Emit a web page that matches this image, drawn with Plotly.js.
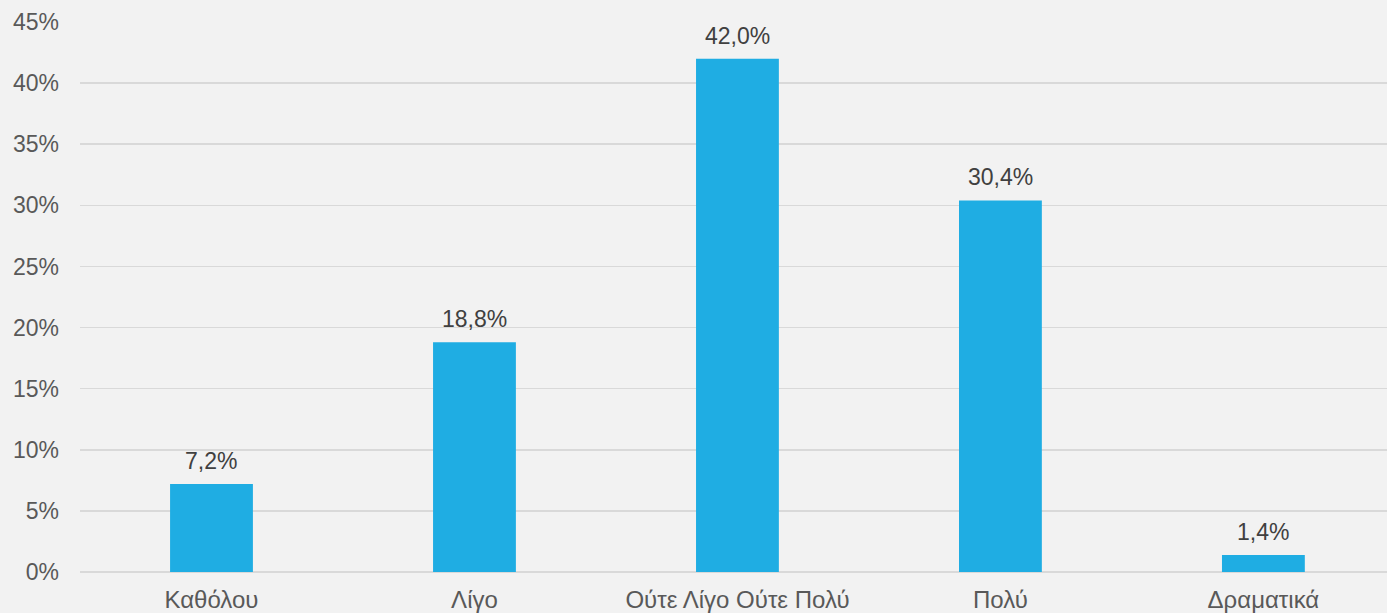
<!DOCTYPE html>
<html>
<head>
<meta charset="utf-8">
<script src="https://cdn.plot.ly/plotly-3.0.1.min.js"></script>
<style>html,body{margin:0;padding:0;background:#f2f2f2;}#chart{width:1387px;height:613px;}</style>
</head>
<body>
<div id="chart"></div>
<script>
const categories = ["Καθόλου", "Λίγο", "Ούτε Λίγο Ούτε Πολύ", "Πολύ", "Δραματικά"];
const values = [7.2, 18.8, 42.0, 30.4, 1.4];
const tickValues = [0, 5, 10, 15, 20, 25, 30, 35, 40, 45];
const tickLabels = tickValues.map(v => v + '%');
const valueLabels = values.map(v => v.toFixed(1).replace('.', ',') + '%');

const FONT = 'Liberation Sans, Arial, sans-serif';

const trace = {
  type: 'bar',
  x: categories,
  y: values,
  marker: {color: '#1fade3'},
  width: 0.315,
  hoverinfo: 'none'
};

const annotations = categories.map((c, i) => ({
  x: c, y: values[i], xref: 'x', yref: 'y',
  text: valueLabels[i], showarrow: false,
  yanchor: 'bottom', yshift: 8,
  font: {family: FONT, size: 23, color: '#404040'}
}));

const layout = {
  width: 1387, height: 613,
  margin: {l: 80, r: 0, t: 22, b: 41},
  paper_bgcolor: '#f2f2f2',
  plot_bgcolor: '#f2f2f2',
  showlegend: false,
  font: {family: FONT, size: 23, color: '#595959'},
  annotations: annotations,
  xaxis: {
    range: [-0.5, 4.47],
    showgrid: false, zeroline: false, showline: false,
    ticks: '', ticklabelstandoff: 11,
    tickfont: {family: FONT, size: 24, color: '#595959'}
  },
  yaxis: {
    range: [0, 45], tickmode: 'array', tickvals: tickValues, ticktext: tickLabels,
    showgrid: true, gridcolor: '#d9d9d9', gridwidth: 1.5,
    zeroline: true, zerolinecolor: '#d9d9d9', zerolinewidth: 1.5,
    showline: false, ticks: '', ticklabelstandoff: 20,
    tickfont: {family: FONT, size: 23, color: '#595959'}
  }
};

Plotly.newPlot('chart', [trace], layout, {displayModeBar: false, staticPlot: true});
</script>
</body>
</html>
